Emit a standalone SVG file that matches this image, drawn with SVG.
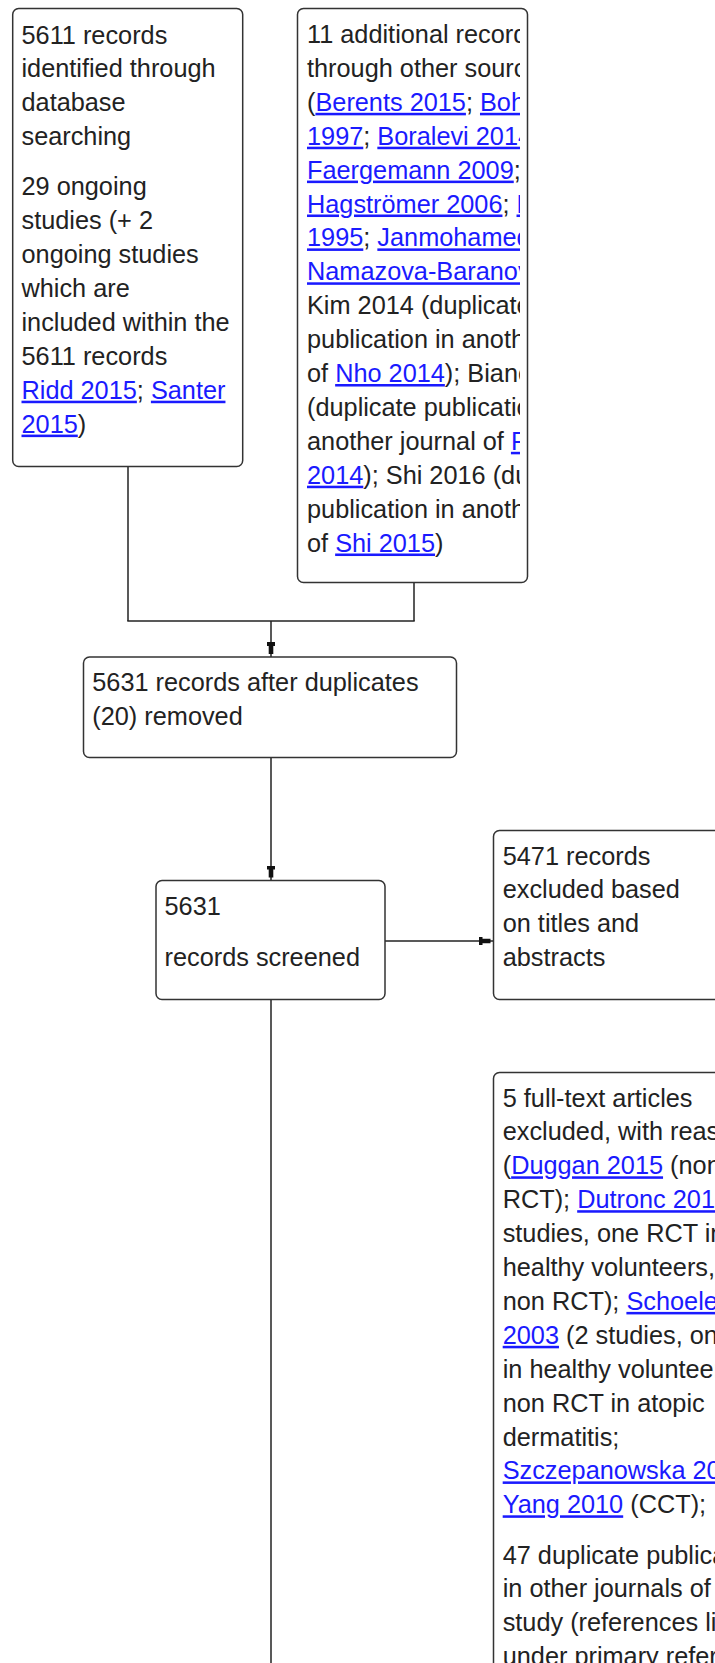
<svg xmlns="http://www.w3.org/2000/svg" width="715" height="1663" viewBox="0 0 715 1663">
<style>
.box{fill:#fff;stroke:#333;stroke-width:1.5}
.t{font-family:"Liberation Sans",Arial,sans-serif;font-size:25.3px;fill:#222}
.a{fill:#1a1aff;text-decoration:underline}
.c{stroke:#222;stroke-width:1.5;fill:none}
</style>
<defs>
<marker id="ah" markerWidth="15" markerHeight="8" viewBox="0 0 15 8" refX="15" refY="4" orient="auto" markerUnits="userSpaceOnUse">
<path d="M0,0 L4,0 L4,1.7 L12,1.7 L12,6.3 L4,6.3 L4,8 L0,8 Z" fill="#111"/>
</marker>
<clipPath id="clip2"><rect x="299" y="9" width="221" height="572"/></clipPath>
</defs>
<rect width="715" height="1663" fill="#fff"/>
<g id="connectors">
<line class="c" x1="128" y1="467" x2="128" y2="621"/>
<line class="c" x1="414" y1="583" x2="414" y2="621"/>
<line class="c" x1="127.3" y1="621" x2="414.7" y2="621"/>
<line class="c" x1="271" y1="621" x2="271" y2="657" marker-end="url(#ah)"/>
<line class="c" x1="271" y1="758" x2="271" y2="880.5" marker-end="url(#ah)"/>
<line class="c" x1="385" y1="941" x2="493.5" y2="941" marker-end="url(#ah)"/>
<line class="c" x1="271" y1="1000" x2="271" y2="1663"/>
</g>
<g id="n1">
<rect class="box" x="12.7" y="8.5" width="230" height="458" rx="6"/>
<text class="t" x="21.5" y="43.5">5611 records</text>
<text class="t" x="21.5" y="77.4">identified through</text>
<text class="t" x="21.5" y="111.3">database</text>
<text class="t" x="21.5" y="145.2">searching</text>
<text class="t" x="21.5" y="195.3">29 ongoing</text>
<text class="t" x="21.5" y="229.2">studies (+ 2</text>
<text class="t" x="21.5" y="263.1">ongoing studies</text>
<text class="t" x="21.5" y="297">which are</text>
<text class="t" x="21.5" y="330.9">included within the</text>
<text class="t" x="21.5" y="364.8">5611 records</text>
<text class="t" x="21.5" y="398.7"><tspan class="a">Ridd 2015</tspan>; <tspan class="a">Santer</tspan></text>
<text class="t" x="21.5" y="432.6"><tspan class="a">2015</tspan>)</text>
</g>
<g id="n2">
<rect class="box" x="297.5" y="8.5" width="230" height="574" rx="6"/>
<g clip-path="url(#clip2)">
<text class="t" x="307" y="43">11 additional records identified</text>
<text class="t" x="307" y="76.9">through other sources</text>
<text class="t" x="307" y="110.8">(<tspan class="a">Berents 2015</tspan>; <tspan class="a">Bohnsack</tspan></text>
<text class="t" x="307" y="144.7"><tspan class="a">1997</tspan>; <tspan class="a">Boralevi 2014</tspan>;</text>
<text class="t" x="307" y="178.6"><tspan class="a">Faergemann 2009</tspan>;</text>
<text class="t" x="307" y="212.5"><tspan class="a">Hagströmer 2006</tspan>; <tspan class="a">Hanifin</tspan></text>
<text class="t" x="307" y="246.4"><tspan class="a">1995</tspan>; <tspan class="a">Janmohamed 2014</tspan>;</text>
<text class="t" x="307" y="280.3"><tspan class="a">Namazova-Baranova 2016</tspan>;</text>
<text class="t" x="307" y="314.2">Kim 2014 (duplicate</text>
<text class="t" x="307" y="348.1">publication in another journal</text>
<text class="t" x="307" y="382">of <tspan class="a">Nho 2014</tspan>); Bianchi 2016</text>
<text class="t" x="307" y="415.9">(duplicate publication in</text>
<text class="t" x="307" y="449.8">another journal of <tspan class="a">Puviani</tspan></text>
<text class="t" x="307" y="483.7"><tspan class="a">2014</tspan>); Shi 2016 (duplicate</text>
<text class="t" x="307" y="517.6">publication in another journal</text>
<text class="t" x="307" y="551.5">of <tspan class="a">Shi 2015</tspan>)</text>
</g>
</g>
<g id="n3">
<rect class="box" x="83.5" y="657" width="373" height="100.5" rx="6"/>
<text class="t" x="92.3" y="690.7">5631 records after duplicates</text>
<text class="t" x="92.3" y="724.6">(20) removed</text>
</g>
<g id="n4">
<rect class="box" x="156" y="880.5" width="229" height="119" rx="6"/>
<text class="t" x="164.5" y="915">5631</text>
<text class="t" x="164.5" y="966">records screened</text>
</g>
<g id="n5">
<rect class="box" x="493.5" y="830.5" width="260" height="169" rx="6"/>
<text class="t" x="502.7" y="864.5">5471 records</text>
<text class="t" x="502.7" y="898.4">excluded based</text>
<text class="t" x="502.7" y="932.3">on titles and</text>
<text class="t" x="502.7" y="966.2">abstracts</text>
</g>
<g id="n6">
<rect class="box" x="493.5" y="1072.5" width="260" height="700" rx="6"/>
<text class="t" x="502.7" y="1106.5">5 full-text articles</text>
<text class="t" x="502.7" y="1140.4">excluded, with reasons</text>
<text class="t" x="502.7" y="1174.3">(<tspan class="a">Duggan 2015</tspan> (non</text>
<text class="t" x="502.7" y="1208.2">RCT); <tspan class="a">Dutronc 2014</tspan> (2</text>
<text class="t" x="502.7" y="1242.1">studies, one RCT in</text>
<text class="t" x="502.7" y="1276">healthy volunteers, one</text>
<text class="t" x="502.7" y="1309.9">non RCT); <tspan class="a">Schoelermann</tspan></text>
<text class="t" x="502.7" y="1343.8"><tspan class="a">2003</tspan> (2 studies, one RCT</text>
<text class="t" x="502.7" y="1377.7">in healthy volunteers, one</text>
<text class="t" x="502.7" y="1411.6">non RCT in atopic</text>
<text class="t" x="502.7" y="1445.5">dermatitis;</text>
<text class="t" x="502.7" y="1479.4"><tspan class="a">Szczepanowska 2008</tspan>;</text>
<text class="t" x="502.7" y="1513.3"><tspan class="a">Yang 2010</tspan> (CCT);</text>
<text class="t" x="502.7" y="1563.5">47 duplicate publications</text>
<text class="t" x="502.7" y="1597.4">in other journals of the same</text>
<text class="t" x="502.7" y="1631.3">study (references listed</text>
<text class="t" x="502.7" y="1665.2">under primary references)</text>
</g>
</svg>
